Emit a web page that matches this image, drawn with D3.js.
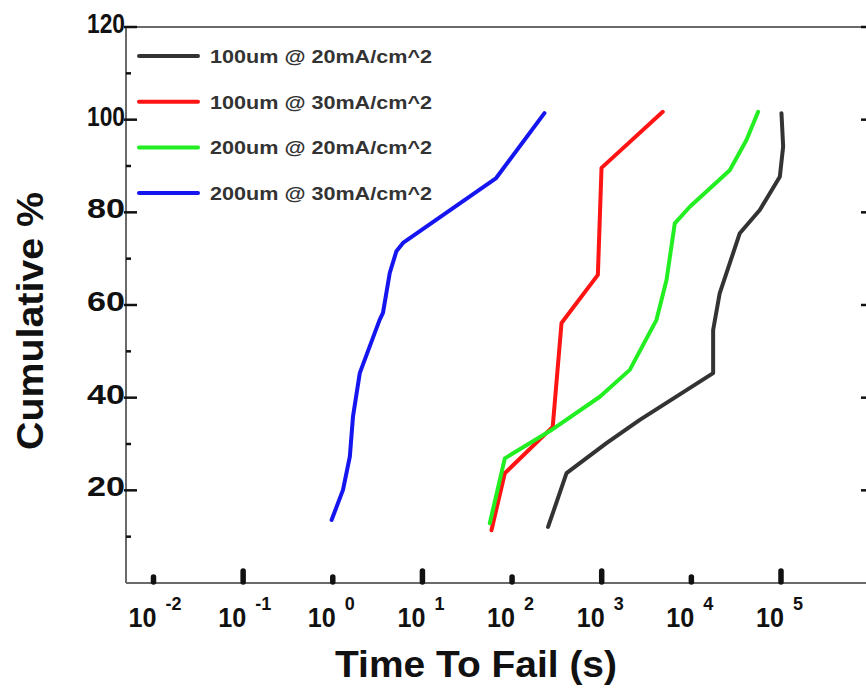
<!DOCTYPE html>
<html><head><meta charset="utf-8">
<script src="https://cdn.jsdelivr.net/npm/d3@7"></script>
<style>
html,body{margin:0;padding:0;background:#fff;}
text{font-family:"Liberation Sans",Arial,Helvetica,sans-serif;font-weight:bold;}
</style></head>
<body>
<svg id="c" width="866" height="691"></svg>
<script>
// ---- data (time in seconds, cumulative %) ----
const seriesNames = ["100um @ 20mA/cm^2","100um @ 30mA/cm^2","200um @ 20mA/cm^2","200um @ 30mA/cm^2"];
const seriesColors = ["#333333","#ff1414","#22ee22","#1515f0"];

const black_t   = [252, 405, 1130, 2660, 17500, 17500, 20700, 34700, 58000, 97000, 105700, 101200];
const black_pct = [12.1, 23.7, 30.2, 35.2, 45.3, 54.6, 62.5, 75.5, 80.5, 87.7, 94.2, 101.4];

const red_t   = [58.9, 83, 284, 356, 906, 995, 4800];
const red_pct = [11.4, 23.7, 33.7, 56.1, 66.5, 89.6, 101.7];

const green_t   = [56.4, 83, 264, 953, 2056, 4083, 5284, 6530, 9616, 26800, 41200, 55600];
const green_pct = [12.9, 26.9, 32.8, 40.2, 46.0, 56.8, 65.4, 77.6, 81.2, 89.1, 95.6, 101.7];

const blue_t   = [0.97, 1.30, 1.55, 1.68, 2.0, 3.33, 3.63, 4.32, 5.12, 6.07, 66.5, 229.6];
const blue_pct = [13.6, 20.1, 27.3, 35.9, 45.3, 56.8, 58.3, 66.9, 71.6, 73.4, 87.4, 101.4];

const xTickExps = [-2,-1,0,1,2,3,4,5];
const yMajorTicks = [20,40,60,80,100,120];
const yMinorTicks = [10,30,50,70,90,110];

// ---- layout ----
const svg = d3.select("#c");
const L = 126, R = 868, T = 27, B = 583;
const x = d3.scaleLog().domain([1e-2, 1e5]).range([153.5, 781]);
const y = d3.scaleLinear().domain([0, 120]).range([B, T]);

// frame lines (left, bottom, top)
const axisColor = "#6a6a6a";
svg.append("line").attr("x1",L).attr("x2",L).attr("y1",T).attr("y2",B).attr("stroke",axisColor).attr("stroke-width",2);
svg.append("line").attr("x1",L).attr("x2",R).attr("y1",B).attr("y2",B).attr("stroke",axisColor).attr("stroke-width",2);
svg.append("line").attr("x1",L).attr("x2",R).attr("y1",T).attr("y2",T).attr("stroke",axisColor).attr("stroke-width",2);
svg.append("line").attr("x1",R).attr("x2",R).attr("y1",T).attr("y2",B).attr("stroke",axisColor).attr("stroke-width",2);

// y ticks (inward) left and right
yMajorTicks.forEach(v=>{
  svg.append("line").attr("x1",L-2).attr("x2",L+11).attr("y1",y(v)).attr("y2",y(v)).attr("stroke","#111").attr("stroke-width",2.5);
  svg.append("line").attr("x1",R-7).attr("x2",R).attr("y1",y(v)).attr("y2",y(v)).attr("stroke","#111").attr("stroke-width",2.5);
  svg.append("text").attr("x",L-1).attr("y",y(v)+6).attr("text-anchor","end").attr("font-size",28).attr("fill","#111")
    .attr("textLength",38).attr("lengthAdjust","spacingAndGlyphs").text(v);
});
yMinorTicks.forEach(v=>{
  svg.append("line").attr("x1",L).attr("x2",L+5).attr("y1",y(v)).attr("y2",y(v)).attr("stroke","#111").attr("stroke-width",2.5);
});

// x ticks (inward, thick), alternating heights
xTickExps.forEach((e,i)=>{
  const major = (i % 2 === 1);
  const xv = x(Math.pow(10,e));
  svg.append("line").attr("x1",xv).attr("x2",xv).attr("y1",B-1).attr("y2",B-(major?12:6))
    .attr("stroke","#111").attr("stroke-width",5.5).attr("stroke-linecap","round");
  const g = svg.append("text").attr("x",xv-25).attr("y",627).attr("font-size",28).attr("fill","#111");
  g.append("tspan").attr("textLength",28).attr("lengthAdjust","spacingAndGlyphs").text("10");
  g.append("tspan").attr("dx",9).attr("dy",-17).attr("font-size",18).text(e);
});

// series lines
const line = d3.line().x(d=>x(d[0])).y(d=>y(d[1])).curve(d3.curveLinear);
const seriesData = [
  d3.zip(black_t, black_pct),
  d3.zip(red_t, red_pct),
  d3.zip(green_t, green_pct),
  d3.zip(blue_t, blue_pct)
];
seriesData.forEach((s,i)=>{
  svg.append("path").attr("d",line(s)).attr("fill","none").attr("stroke",seriesColors[i])
    .attr("stroke-width",4).attr("stroke-linejoin","round").attr("stroke-linecap","round");
});

// legend
seriesNames.forEach((n,i)=>{
  const cy = 56 + i*45.7;
  svg.append("line").attr("x1",139).attr("x2",198).attr("y1",cy).attr("y2",cy)
    .attr("stroke",seriesColors[i]).attr("stroke-width",4).attr("stroke-linecap","round");
  svg.append("text").attr("x",210).attr("y",cy+7).attr("font-size",19).attr("fill","#333")
    .attr("textLength",222).attr("lengthAdjust","spacingAndGlyphs").text(n);
});

// axis titles
svg.append("text").attr("x",476).attr("y",677).attr("text-anchor","middle").attr("font-size",37).attr("fill","#111")
  .attr("textLength",282).attr("lengthAdjust","spacingAndGlyphs").text("Time To Fail (s)");
svg.append("text").attr("transform","translate(43,321) rotate(-90)").attr("text-anchor","middle").attr("font-size",37).attr("fill","#111")
  .attr("textLength",258).attr("lengthAdjust","spacingAndGlyphs").text("Cumulative %");
</script>
</body></html>
